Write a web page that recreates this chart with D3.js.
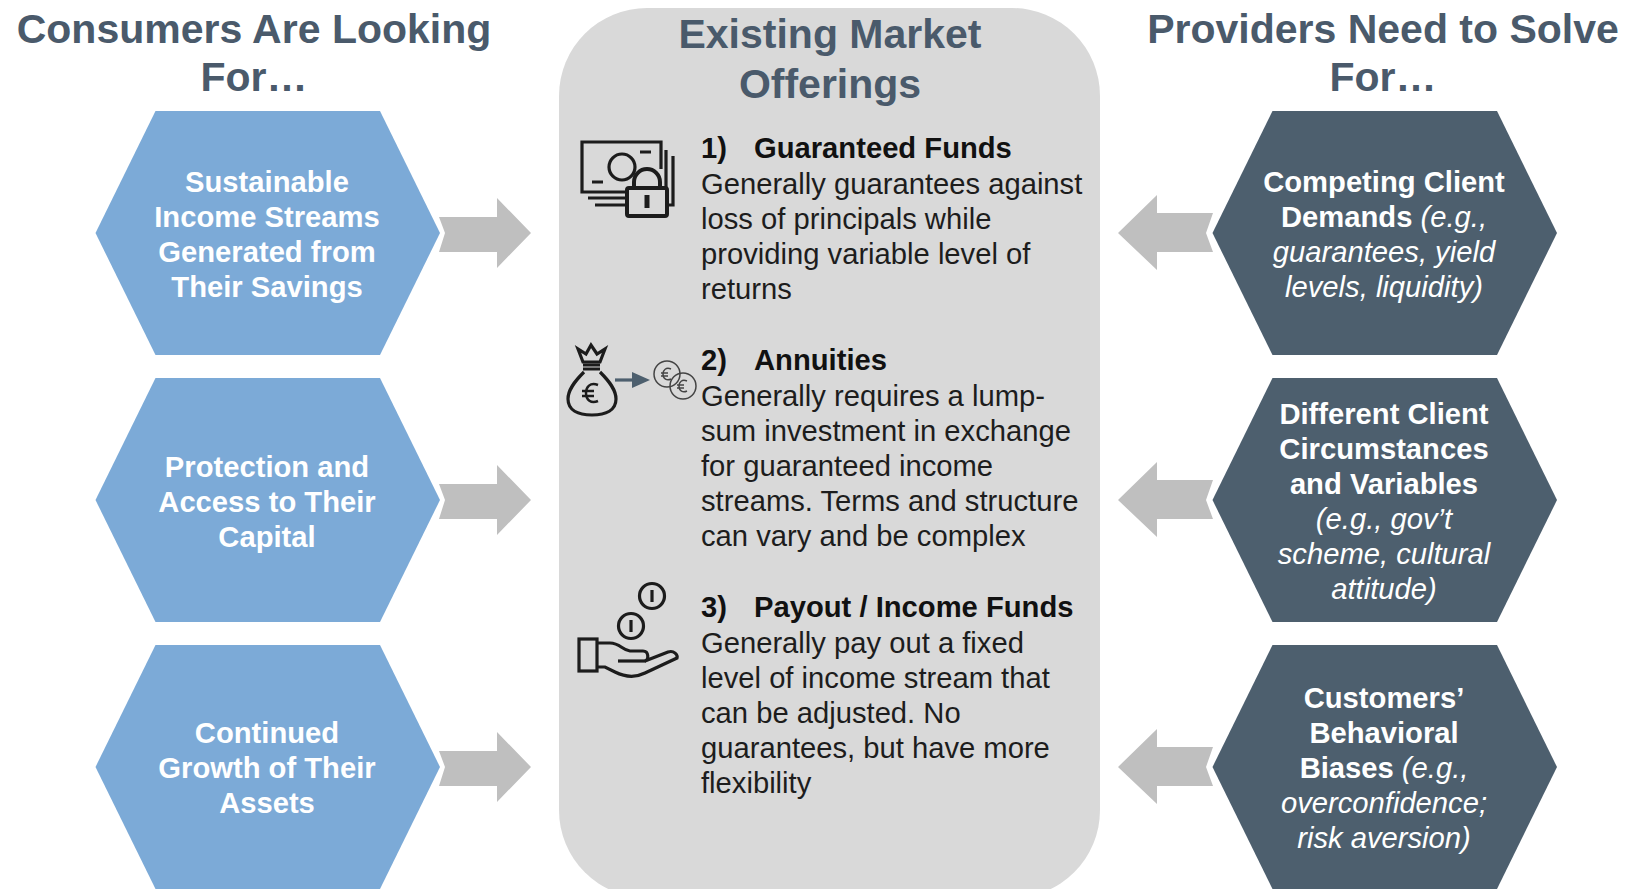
<!DOCTYPE html>
<html>
<head>
<meta charset="utf-8">
<script src="https://cdn.jsdelivr.net/npm/d3@7"></script>
<style>
  html, body { margin: 0; padding: 0; background: #fff; }
  svg { display: block; }
  text { font-family: "Liberation Sans", Arial, sans-serif; }
</style>
</head>
<body>
<div id="chart"></div>
<script>
var rows = [0, 1, 2];

var titleLeft = ["Consumers Are Looking", "For…"];
var titleMiddle = ["Existing Market", "Offerings"];
var titleRight = ["Providers Need to Solve", "For…"];

var consumerLines = [
    ["Sustainable", "Income Streams", "Generated from", "Their Savings"],
    ["Protection and", "Access to Their", "Capital"],
    ["Continued", "Growth of Their", "Assets"]
];

// b = bold, i = italic
var providerLines = [
    [[["b", "Competing Client"]], [["b", "Demands "], ["i", "(e.g.,"]], [["i", "guarantees, yield"]], [["i", "levels, liquidity)"]]],
    [[["b", "Different Client"]], [["b", "Circumstances"]], [["b", "and Variables"]], [["i", "(e.g., gov’t"]], [["i", "scheme, cultural"]], [["i", "attitude)"]]],
    [[["b", "Customers’"]], [["b", "Behavioral"]], [["b", "Biases "], ["i", "(e.g.,"]], [["i", "overconfidence;"]], [["i", "risk aversion)"]]]
];

var offerNumbers = ["1)", "2)", "3)"];
var offerNames = ["Guaranteed Funds", "Annuities", "Payout / Income Funds"];
var offerBody = [
    ["Generally guarantees against", "loss of principals while", "providing variable level of", "returns"],
    ["Generally requires a lump-", "sum investment in exchange", "for guaranteed income", "streams. Terms and structure", "can vary and be complex"],
    ["Generally pay out a fixed", "level of income stream that", "can be adjusted. No", "guarantees, but have more", "flexibility"]
];

var BLUE = "#7caad7";
var SLATE = "#4d5f6e";
var GREY_ARROW = "#bfbfbf";
var PANEL = "#d9d9d9";
var TITLE = "#4a5a6b";
var INK = "#1d1d1d";

var screen = {width: 1629, height: 889};

var svg = d3.select("#chart")
    .append("svg")
    .attr("width", screen.width)
    .attr("height", screen.height);

//one band per row, the hexagons and arrows hang off this
var rowScale = d3.scaleBand()
    .domain(rows)
    .range([111, 889])
    .paddingInner(0.0861)
    .paddingOuter(0);

var hexPath = function(x0, x1, slant, h)
{
    var p = d3.path();
    p.moveTo(x0 + slant, 0);
    p.lineTo(x1 - slant, 0);
    p.lineTo(x1, h / 2);
    p.lineTo(x1 - slant, h);
    p.lineTo(x0 + slant, h);
    p.lineTo(x0, h / 2);
    p.closePath();
    return p.toString();
}

//middle panel
svg.append("rect")
    .attr("x", 559)
    .attr("y", 8)
    .attr("width", 541)
    .attr("height", 890)
    .attr("rx", 88)
    .attr("ry", 88)
    .attr("fill", PANEL);

var drawTitle = function(lines, cx, y0, size, step)
{
    svg.append("g").selectAll("text")
        .data(lines)
        .enter()
        .append("text")
        .attr("x", cx)
        .attr("y", function(d, i) { return y0 + i * step; })
        .attr("text-anchor", "middle")
        .attr("font-size", size)
        .attr("font-weight", "bold")
        .attr("fill", TITLE)
        .text(function(d) { return d; });
}

drawTitle(titleLeft, 254, 43, 41, 48);
drawTitle(titleMiddle, 830, 48, 41, 50);
drawTitle(titleRight, 1383, 43, 41, 48);

//hexagons
var drawHexes = function(x0, x1, fill)
{
    svg.append("g").selectAll("path")
        .data(rows)
        .enter()
        .append("path")
        .attr("transform", function(d) { return "translate(0," + rowScale(d) + ")"; })
        .attr("d", hexPath(x0, x1, 60, rowScale.bandwidth()))
        .attr("fill", fill);
}

drawHexes(95.5, 440, BLUE);
drawHexes(1212.5, 1557, SLATE);

//arrows
var arrowLeft = d3.path();
arrowLeft.moveTo(439, -16);
arrowLeft.lineTo(497, -16);
arrowLeft.lineTo(497, -35);
arrowLeft.lineTo(531, 0);
arrowLeft.lineTo(497, 35);
arrowLeft.lineTo(497, 19);
arrowLeft.lineTo(439, 19);
arrowLeft.lineTo(445, 0);
arrowLeft.closePath();

var arrowRight = d3.path();
arrowRight.moveTo(1213, -20);
arrowRight.lineTo(1157, -20);
arrowRight.lineTo(1157, -38);
arrowRight.lineTo(1118, 0);
arrowRight.lineTo(1157, 37);
arrowRight.lineTo(1157, 19);
arrowRight.lineTo(1213, 19);
arrowRight.lineTo(1206, 0);
arrowRight.closePath();

var drawArrows = function(path)
{
    svg.append("g").selectAll("path")
        .data(rows)
        .enter()
        .append("path")
        .attr("transform", function(d) { return "translate(0," + (rowScale(d) + rowScale.bandwidth() / 2) + ")"; })
        .attr("d", path.toString())
        .attr("fill", GREY_ARROW);
}

drawArrows(arrowLeft);
drawArrows(arrowRight);

//hexagon text
var LINE = 35;
var HEX_FONT = 29.2;

consumerLines.forEach(function(lines, r)
{
    var mid = rowScale(r) + rowScale.bandwidth() / 2;
    svg.append("g").selectAll("text")
        .data(lines)
        .enter()
        .append("text")
        .attr("x", 267)
        .attr("y", function(d, i) { return mid + (i - (lines.length - 1) / 2) * LINE + 11.5; })
        .attr("text-anchor", "middle")
        .attr("font-size", HEX_FONT)
        .attr("font-weight", "bold")
        .attr("fill", "#fff")
        .text(function(d) { return d; });
});

providerLines.forEach(function(lines, r)
{
    var mid = rowScale(r) + rowScale.bandwidth() / 2;
    var label = svg.append("g").selectAll("text")
        .data(lines)
        .enter()
        .append("text")
        .attr("x", 1384)
        .attr("y", function(d, i) { return mid + (i - (lines.length - 1) / 2) * LINE + 11.5; })
        .attr("text-anchor", "middle")
        .attr("font-size", HEX_FONT)
        .attr("fill", "#fff");
    label.selectAll("tspan")
        .data(function(d) { return d; })
        .enter()
        .append("tspan")
        .attr("font-weight", function(d) { return d[0] == "b" ? "bold" : "normal"; })
        .attr("font-style", function(d) { return d[0] == "i" ? "italic" : "normal"; })
        .text(function(d) { return d[1]; });
});

//offerings text
var offerTop = d3.scaleOrdinal().domain(rows).range([158, 370, 617]);
var bodyTop = d3.scaleOrdinal().domain(rows).range([194, 406, 653]);

rows.forEach(function(r)
{
    svg.append("text")
        .attr("x", 701)
        .attr("y", offerTop(r))
        .attr("font-size", HEX_FONT)
        .attr("font-weight", "bold")
        .attr("fill", "#111")
        .text(offerNumbers[r]);
    svg.append("text")
        .attr("x", 754)
        .attr("y", offerTop(r))
        .attr("font-size", HEX_FONT)
        .attr("font-weight", "bold")
        .attr("fill", "#111")
        .text(offerNames[r]);
    svg.append("g").selectAll("text")
        .data(offerBody[r])
        .enter()
        .append("text")
        .attr("x", 701)
        .attr("y", function(d, i) { return bodyTop(r) + i * LINE; })
        .attr("font-size", HEX_FONT)
        .attr("fill", INK)
        .text(function(d) { return d; });
});

//icons
var icons = svg.append("g")
    .attr("fill", "none")
    .attr("stroke", "#1c1c1c")
    .attr("stroke-width", 3.2);

var cash = icons.append("g");
cash.append("path").attr("d", "M627 192H582V142H661V169");
cash.append("circle").attr("cx", 622).attr("cy", 167).attr("r", 13);
cash.append("path").attr("d", "M592 182H603M640 152H651M588 198H625M595 205H625M666 150V187M673 156V205H668");
cash.append("rect").attr("x", 627).attr("y", 188).attr("width", 40).attr("height", 28).attr("rx", 2).attr("stroke-width", 4);
cash.append("path").attr("d", "M634 187V182A13 13 0 0 1 660 182V187").attr("stroke-width", 4);
cash.append("path").attr("d", "M647 195V208").attr("stroke-width", 5);

var bag = icons.append("g");
bag.append("path").attr("d", "M583 362L578 349L586 354L591 345L597 354L605 349L600 362Z");
bag.append("path").attr("d", "M583 365H600M583 369H600");
bag.append("path").attr("d", "M584 372C574 382 568 390 568 399C568 410 578 415 592 415C606 415 616 410 616 399C616 390 610 382 600 372");
bag.append("path").attr("d", "M598 385C590 382 586 387 586 393C586 400 591 404 598 401M582 391H594M582 396H594").attr("stroke-width", 2.5);
icons.append("path").attr("d", "M615 380H635").attr("stroke", SLATE);
icons.append("path").attr("d", "M632 372L650 380L632 388Z").attr("fill", SLATE).attr("stroke", "none");

var euroCoins = icons.append("g").attr("stroke", "#444").attr("stroke-width", 1.5);
euroCoins.append("circle").attr("cx", 667).attr("cy", 374).attr("r", 13);
euroCoins.append("circle").attr("cx", 683).attr("cy", 386).attr("r", 13);
euroCoins.append("path").attr("d", "M671 369C666 367 663 370 663 374C663 379 667 381 671 379M661 373H668M661 376H668");
euroCoins.append("path").attr("d", "M687 381C682 379 679 382 679 386C679 391 683 393 687 391M677 385H684M677 388H684");

var hand = icons.append("g");
hand.append("circle").attr("cx", 652).attr("cy", 596).attr("r", 12.5);
hand.append("path").attr("d", "M652 590V602");
hand.append("circle").attr("cx", 631).attr("cy", 626).attr("r", 12.5);
hand.append("path").attr("d", "M631 620V632");
hand.append("rect").attr("x", 579).attr("y", 639).attr("width", 18).attr("height", 32);
hand.append("path").attr("d", "M597 643H610C620 643 622 650 630 651H643C649 651 649 660 645 661L668 652C674 650 678 655 677 658L645 673C635 678 625 677 615 672L605 667H597");
hand.append("path").attr("d", "M618 661H646");
</script>
</body>
</html>
